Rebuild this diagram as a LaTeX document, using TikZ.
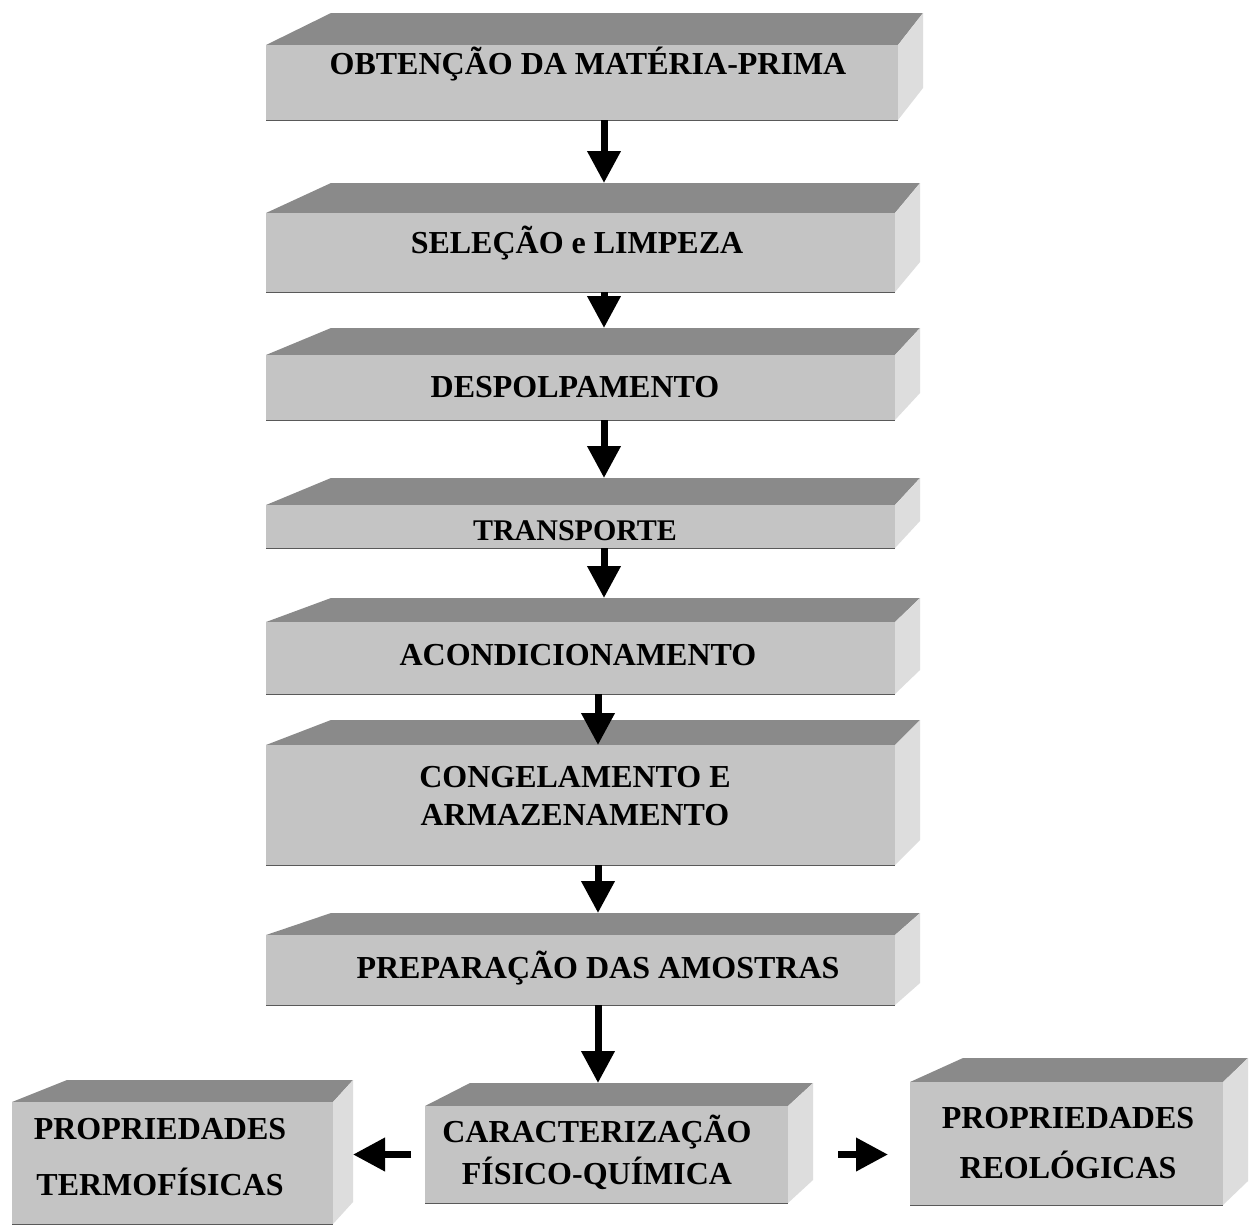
\documentclass[tikz,border=0pt]{standalone}
\usepackage{fontspec}
\setmainfont{Liberation Serif}
\usetikzlibrary{arrows.meta}
\definecolor{frontc}{HTML}{C4C4C4}
\definecolor{topc}{HTML}{8A8A8A}
\definecolor{sidec}{HTML}{DDDDDD}
\tikzset{
  frontface/.style={fill=frontc, inner sep=0pt, outer sep=0pt, anchor=north west},
  topface/.style={fill=topc},
  sideface/.style={fill=sidec},
  lbl/.style={font=\bfseries\fontsize{32}{40}\selectfont, align=center, inner sep=0pt},
  arr/.style={line width=7pt, -{Triangle[width=32pt,length=32pt]}},
}
% name, x1, y1, x2, y2, left depth, right depth, depth
\newcommand\cubebox[8]{%
  \fill[topface] (#2,#3) -- (#2+#6,#3-#8) -- (#4+#7,#3-#8) -- (#4,#3) -- cycle;
  \fill[sideface] (#4,#3) -- (#4+#7,#3-#8) -- (#4+#7,#5-#8) -- (#4,#5) -- cycle;
  \node[frontface, minimum width={#4pt-#2pt}, minimum height={#5pt-#3pt}] (#1) at (#2,#3) {};
  \draw[black!65, line width=1pt] (#1.south west) -- (#1.south east);
  \coordinate (#1-top) at (#2,#3-#8);
  \coordinate (#1-side) at (#4+#7,#3);
}
\begin{document}
\begin{tikzpicture}[x=1pt,y=-1pt]
\fill[white] (0,0) rectangle (1249,1224);
\useasboundingbox (0,0) rectangle (1249,1224);

\cubebox{b1}{266}{45}{898}{120}{65}{25}{32}
\cubebox{b2}{266}{213}{895}{292}{65}{25}{30}
\cubebox{b3}{266}{355}{895}{420}{65}{25}{27}
\cubebox{b4}{266}{505}{895}{548}{65}{25}{27}
\cubebox{b5}{266}{622}{895}{694}{65}{25}{24}
\cubebox{b6}{266}{745}{895}{865}{65}{25}{25}
\cubebox{b7}{266}{935}{895}{1005}{65}{25}{22}
\cubebox{tl}{12}{1102}{333}{1224}{55}{20}{22}
\cubebox{cc}{425}{1106}{788}{1203}{45}{25}{23}
\cubebox{rr}{910}{1082}{1223}{1205}{53}{25}{24}

\node[lbl] (b1t) at (588,64) {OBTENÇÃO DA MATÉRIA-PRIMA};
\node[lbl] (b2t) at (577,243) {SELEÇÃO e LIMPEZA};
\node[lbl] (b3t) at (575,387) {DESPOLPAMENTO};
\node[lbl, font=\bfseries\fontsize{30}{36}\selectfont] (b4t) at (575,531) {TRANSPORTE};
\node[lbl] (b5t) at (578,655) {ACONDICIONAMENTO};
\node[lbl, font=\bfseries\fontsize{32}{38}\selectfont] (b6t) at (575,796) {CONGELAMENTO E\\ARMAZENAMENTO};
\node[lbl] (b7t) at (598,968) {PREPARAÇÃO DAS AMOSTRAS};
\node[lbl, font=\bfseries\fontsize{32}{56}\selectfont] (tlt) at (160,1157) {PROPRIEDADES\\TERMOFÍSICAS};
\node[lbl, font=\bfseries\fontsize{32}{42}\selectfont] (cct) at (597,1152) {CARACTERIZAÇÃO\\FÍSICO-QUÍMICA};
\node[lbl, font=\bfseries\fontsize{32}{50}\selectfont] (rrt) at (1068,1143) {PROPRIEDADES\\REOLÓGICAS};

\coordinate (ax) at (604,0);
\coordinate (ax2) at (598,0);
\draw[arr] (b1.south -| ax) -- (b2-top -| ax);
\draw[arr] (b2.south -| ax) -- (b3-top -| ax);
\draw[arr] (b3.south -| ax) -- (b4-top -| ax);
\draw[arr] (b4.south -| ax) -- (b5-top -| ax);
\draw[arr] (b5.south -| ax2) -- (b6.north -| ax2);
\draw[arr] (b6.south -| ax2) -- (b7-top -| ax2);
\draw[arr] (b7.south -| ax2) -- (cc-top -| ax2);
\draw[arr] ([xshift=-14pt]cc.west) -- (tl-side |- cc.west);
\draw[arr] ([xshift=25pt]cc-side |- cc.east) -- ([xshift=-22pt]rr.west |- cc.east);
\end{tikzpicture}
\end{document}
